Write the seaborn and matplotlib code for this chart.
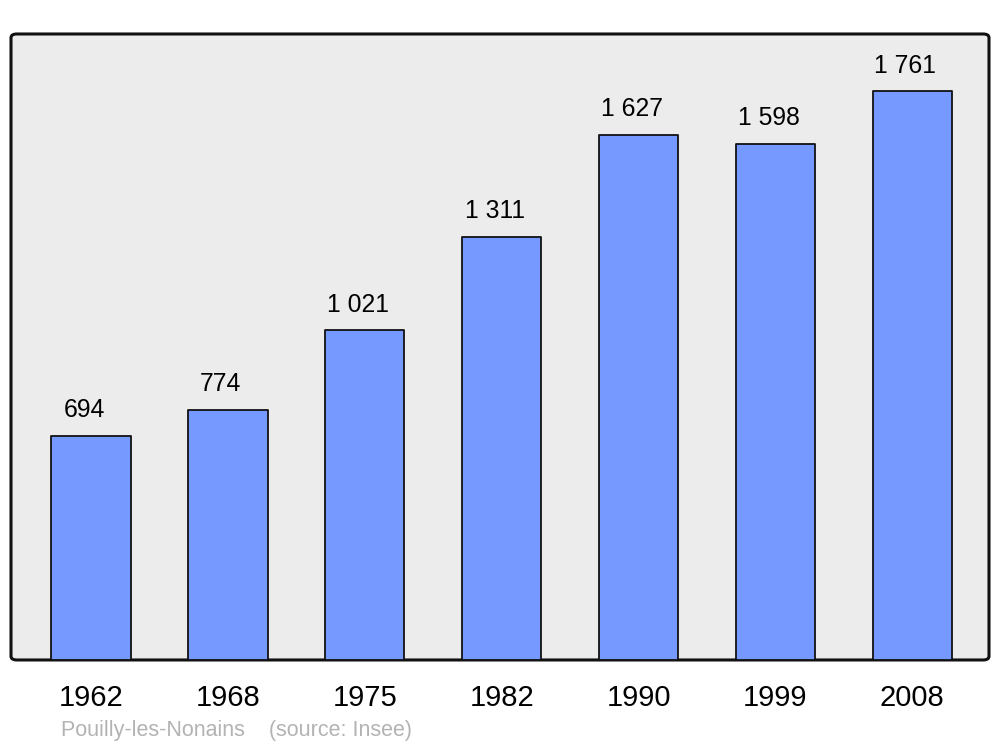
import matplotlib
matplotlib.use("Agg")
import matplotlib.pyplot as plt
from matplotlib.patches import FancyBboxPatch
import seaborn as sns
import pandas as pd

# population data
annees = ["1962", "1968", "1975", "1982", "1990", "1999", "2008"]
population = [694, 774, 1021, 1311, 1627, 1598, 1761]
etiquettes = ["694", "774", "1 021", "1 311", "1 627", "1 598", "1 761"]

df = pd.DataFrame({"annee": annees, "pop": population})

sns.set_theme(style="white")
plt.rcParams["font.family"] = ["Liberation Sans", "DejaVu Sans"]

fig = plt.figure(figsize=(10, 7.47), dpi=100)
ax = fig.add_axes([0.011, 0.1165, 0.978, 0.838])
ax.set_facecolor("none")

# rounded frame with grey background
cadre = FancyBboxPatch((0, 0), 1, 1, boxstyle="round,pad=0,rounding_size=0.006",
                       transform=ax.transAxes, facecolor="#ececec", edgecolor="#111111",
                       linewidth=2.2, zorder=0, clip_on=False)
ax.add_patch(cadre)

sns.barplot(data=df, x="annee", y="pop", color="#7599ff", width=0.58,
            edgecolor="#111111", linewidth=1.3, saturation=1, ax=ax, zorder=2)
for p in ax.patches[1:]:
    p.set_joinstyle("round")

for i, (v, t) in enumerate(zip(population, etiquettes)):
    ax.annotate(t, (i, v), xytext=(-5, 13.5), textcoords="offset points",
                ha="center", va="baseline", fontsize=17.8, color="black", zorder=3)

ax.set_xlim(-0.584, 6.56)
ax.set_ylim(0, 1939)
for s in ax.spines.values():
    s.set_visible(False)
ax.set_yticks([])
ax.set_xlabel("")
ax.set_ylabel("")
ax.tick_params(axis="x", length=0, pad=17, labelsize=21, labelcolor="black")

fig.text(0.061, 0.015, "Pouilly-les-Nonains    (source: Insee)", fontsize=15.5,
         color="#b3b3b3", ha="left", va="baseline")

fig.savefig("out.png", dpi=100)
